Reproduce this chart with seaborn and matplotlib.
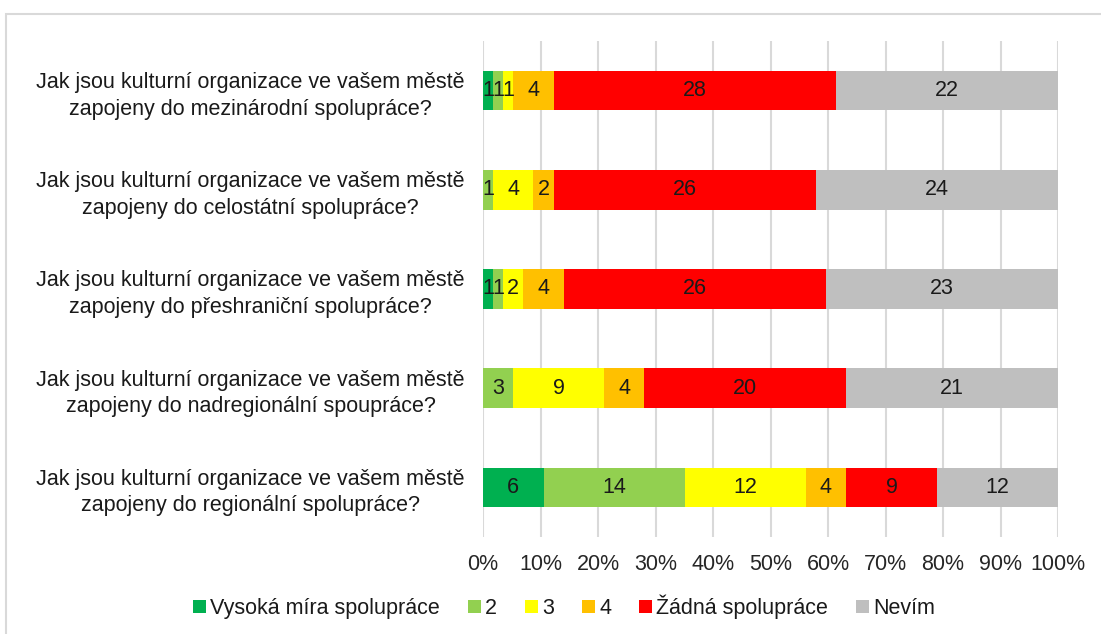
import matplotlib
matplotlib.use("Agg")
import matplotlib.pyplot as plt
import seaborn as sns
import pandas as pd
import numpy as np
from matplotlib.patches import Rectangle, Patch

categories = [
    "Jak jsou kulturní organizace ve vašem městě\nzapojeny do mezinárodní spolupráce?",
    "Jak jsou kulturní organizace ve vašem městě\nzapojeny do celostátní spolupráce?",
    "Jak jsou kulturní organizace ve vašem městě\nzapojeny do přeshraniční spolupráce?",
    "Jak jsou kulturní organizace ve vašem městě\nzapojeny do nadregionální spoupráce?",
    "Jak jsou kulturní organizace ve vašem městě\nzapojeny do regionální spolupráce?",
]
series_names = ["Vysoká míra spolupráce", "2", "3", "4", "Žádná spolupráce", "Nevím"]
vysoka = [1, 0, 1, 0, 6]
s2 = [1, 1, 1, 3, 14]
s3 = [1, 4, 2, 9, 12]
s4 = [4, 2, 4, 4, 4]
zadna = [28, 26, 26, 20, 9]
nevim = [22, 24, 23, 21, 12]
tick_labels = ["0%", "10%", "20%", "30%", "40%", "50%", "60%", "70%", "80%", "90%", "100%"]
colors = ["#00B050", "#92D050", "#FFFF00", "#FFC000", "#FF0000", "#BFBFBF"]

sns.set_theme(style="white")
plt.rcParams["font.family"] = ["Liberation Sans", "DejaVu Sans"]

FS = 15.5

values = np.array([vysoka, s2, s3, s4, zadna, nevim], dtype=float)  # series x categories
totals = values.sum(axis=0)
pct = values / totals * 100
cum = np.cumsum(pct, axis=0)

fig = plt.figure(figsize=(11.01, 6.34), dpi=100)
ax = fig.add_axes([483 / 1101, 1 - 537 / 634, (1058 - 483) / 1101, (537 - 41) / 634])

# frame of chart area
fig.patches.append(Rectangle((6 / 1101, -0.1), 1.2, 1 - 14 / 634 + 0.1, transform=fig.transFigure,
                             fill=False, edgecolor="#D9D9D9", linewidth=1.5, zorder=0))

for i in range(len(series_names) - 1, -1, -1):
    df = pd.DataFrame({"cat": categories, "val": cum[i]})
    sns.barplot(data=df, x="val", y="cat", orient="h", color=colors[i], saturation=1,
                width=0.4, ax=ax, zorder=3, linewidth=0)

for i in range(len(series_names)):
    for j in range(len(categories)):
        v = values[i, j]
        if v <= 0:
            continue
        start = cum[i, j] - pct[i, j]
        ax.text(start + pct[i, j] / 2, j, f"{int(v)}", ha="center", va="center",
                fontsize=FS, color="#1a1a1a", zorder=5)

ax.set_xlim(0, 100)
ax.set_ylim(4.5, -0.5)
ax.set_xticks(np.arange(0, 101, 10))
ax.set_xticklabels(tick_labels, fontsize=FS, color="#262626")
ax.set_xlabel("")
ax.set_ylabel("")
ax.tick_params(axis="x", length=0, pad=12)
ax.tick_params(axis="y", length=0, pad=13, labelsize=FS, labelcolor="#1a1a1a")
for lab in ax.get_yticklabels():
    lab.set_multialignment("center")
    lab.set_linespacing(1.35)
ax.grid(axis="x", color="#D9D9D9", linewidth=1.5, zorder=0)
ax.set_axisbelow(True)
for s in ax.spines.values():
    s.set_visible(False)

handles = [Patch(facecolor=c, edgecolor="none") for c in colors]
fig.legend(handles, series_names, loc="center", bbox_to_anchor=(564 / 1101, 1 - 607 / 634),
           ncol=6, frameon=False, fontsize=FS, handlelength=0.6, handleheight=0.6,
           handletextpad=0.2, columnspacing=1.3, labelcolor="#1a1a1a")

fig.savefig("out.png", dpi=100, facecolor="white")
